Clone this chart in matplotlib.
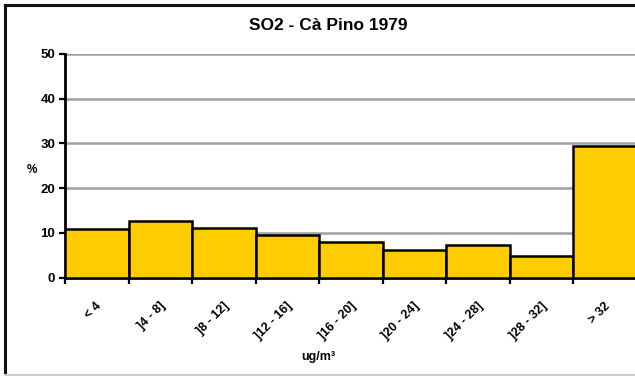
import matplotlib.pyplot as plt
from matplotlib.lines import Line2D

plt.rcParams['font.family'] = ['Liberation Sans', 'DejaVu Sans']
plt.rcParams['font.weight'] = 'bold'

# Data
classes = ['< 4', ']4 - 8]', ']8 - 12]', ']12 - 16]', ']16 - 20]',
           ']20 - 24]', ']24 - 28]', ']28 - 32]', '> 32']
percent = [10.9, 12.6, 11.1, 9.5, 8.0, 6.3, 7.2, 4.8, 29.5]
y_ticks = [0, 10, 20, 30, 40, 50]

W, H = 635, 376
fig = plt.figure(figsize=(W / 100, H / 100), dpi=100)

# plot area in pixels: left 65, right 637 (runs off the image), y0=278, y50=54
left, right, y0, ytop = 65, 637, 277.7, 54
ax = fig.add_axes([left / W, (H - y0) / H, (right - left) / W, (y0 - ytop) / H])

n = len(classes)
ax.bar(range(n), percent, width=1.0, align='edge', color='#FFCC00',
       edgecolor='black', linewidth=1.8, zorder=3)

ax.set_xlim(0, n)
ax.set_ylim(0, 50)
ax.set_yticks(y_ticks)
ax.set_yticklabels([str(v) for v in y_ticks], fontsize=9.5, fontweight='bold')
ax.yaxis.grid(True, color='#a0a0a0', linewidth=1.8, zorder=0)
ax.set_axisbelow(True)

# tick marks on bar boundaries, labels at bar centres
ax.set_xticks(range(n + 1))
ax.set_xticklabels([''] * (n + 1))
ax.set_xticks([i + 0.55 for i in range(n)], minor=True)
ax.set_xticklabels(classes, minor=True, rotation=45, ha='right', va='center',
                   rotation_mode='anchor', fontsize=9, fontweight='bold')
ax.tick_params(axis='x', which='minor', length=0, pad=19)
ax.tick_params(axis='x', which='major', length=4, width=1.6, color='black')
ax.tick_params(axis='y', length=4, width=1.6, color='black', pad=3)

for s in ['top', 'right']:
    ax.spines[s].set_visible(False)
for s in ['left', 'bottom']:
    ax.spines[s].set_linewidth(2)
    ax.spines[s].set_color('black')

fig.text(328 / W, 1 - 26 / H, 'SO2 - Cà Pino 1979', ha='center', va='center',
         fontsize=12.5, fontweight='bold')
fig.text(32 / W, 1 - 170 / H, '%', ha='center', va='center',
         fontsize=8.5, fontweight='bold')
fig.text(318 / W, 1 - 357 / H, 'ug/m³', ha='center', va='center',
         fontsize=9, fontweight='bold')

# chart border (cropped on the right)
fig.add_artist(Line2D([5 / W, 5 / W], [1 - 5 / H, 0], color='#111111', linewidth=2.2))
fig.add_artist(Line2D([5 / W, 1], [1 - 5 / H, 1 - 5 / H], color='#111111', linewidth=2.2))
fig.add_artist(Line2D([5 / W, 1], [1.2 / H, 1.2 / H], color='#cccccc', linewidth=1.5))

fig.savefig('out.png', dpi=100)
